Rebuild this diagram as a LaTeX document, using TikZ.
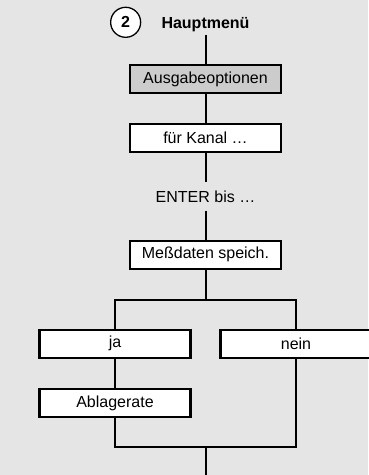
\documentclass[tikz,border=0pt]{standalone}
\usepackage{fontspec}
\setmainfont{Liberation Sans}
\usetikzlibrary{positioning, calc}
\definecolor{grauhell}{HTML}{E5E5E5}
\definecolor{graumittel}{HTML}{CCCCCC}
\colorlet{colLinie}{black}
\colorlet{colHintergrund}{grauhell}
\colorlet{colMarkiert}{graumittel}
\tikzset{
  boxBasis/.style={
    draw=colLinie, line width=2.2pt,
    minimum height=28pt, minimum width=151pt,
    align=center, font=\fontsize{16}{19}\selectfont,
    fill=white, inner sep=0pt
  },
  boxMarkiert/.style={boxBasis, fill=colMarkiert},
  textKnoten/.style={font=\fontsize{16}{19}\selectfont, minimum height=28pt, inner sep=0pt},
  kreisNr/.style={circle, draw=colLinie, line width=1.3pt, fill=white,
    minimum size=30pt, inner sep=0pt, font=\bfseries\fontsize{16}{19}\selectfont},
  linie/.style={line width=2pt, colLinie},
}
\begin{document}
\begin{tikzpicture}
  \fill[colHintergrund] (0,0) rectangle (368pt,-475pt);
  \useasboundingbox (0,0) rectangle (368pt,-475pt);
  \node[boxMarkiert] (ausgabe) at (205.5pt,-79pt) {Ausgabeoptionen};
  \node[textKnoten, minimum height=20pt, font=\bfseries\fontsize{16}{19}\selectfont,
        above=29pt of ausgabe] (haupt) {Hauptmenü};
  \node[kreisNr, left=20pt of haupt, yshift=2.4pt] (nr) {2};
  \node[boxBasis, below=28.8pt of ausgabe] (kanal) {für Kanal …};
  \node[textKnoten, below=29pt of kanal] (enter) {ENTER bis …};
  \node[boxBasis, below=29pt of enter] (mess) {Meßdaten speich.};
  \coordinate[below=30pt of mess] (split);
  \node[boxBasis, below=29pt of split, xshift=-90.5pt] (ja) {ja};
  \node[boxBasis, below=29pt of split, xshift=90.5pt] (nein) {nein};
  \node[boxBasis, below=29pt of ja] (ablage) {Ablagerate};
  \coordinate[below=28.5pt of ablage] (joinL);
  \coordinate (join) at ($(joinL)!0.5!(joinL -| nein)$);
  \coordinate[below=30pt of join] (ende);
  \draw[linie] (haupt) -- (ausgabe);
  \draw[linie] (ausgabe) -- (kanal);
  \draw[linie] (kanal) -- (enter);
  \draw[linie] (enter) -- (mess);
  \draw[linie] (mess) -- (split);
  \draw[linie] (ja) |- (split) -| (nein);
  \draw[linie] (ja) -- (ablage);
  \draw[linie] (ablage) |- (join) -| (nein);
  \draw[linie] (join) -- (ende);
\end{tikzpicture}
\end{document}
